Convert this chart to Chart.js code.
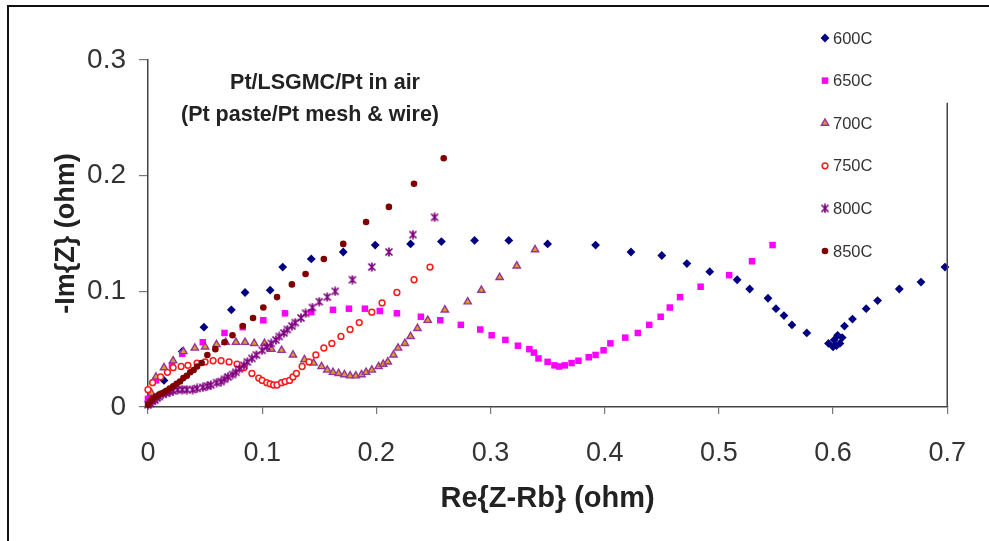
<!DOCTYPE html>
<html>
<head>
<meta charset="utf-8">
<script src="https://cdn.jsdelivr.net/npm/chart.js@4.4.1/dist/chart.umd.min.js"></script>
<style>
  html, body { margin: 0; padding: 0; background: #fff; }
  #wrap { position: relative; width: 989px; height: 541px; overflow: hidden; }
  #frame { position: absolute; left: 7px; top: 5px; width: 1000px; height: 600px;
           border-top: 2px solid #111; border-left: 2px solid #111; }
  #c { position: absolute; left: 0; top: 0; }
</style>
</head>
<body>
<div id="wrap">
  <div id="frame"></div>
  <canvas id="c" width="989" height="541"></canvas>
</div>
<script>
// impedance data, Re{Z-Rb} vs -Im{Z} (ohm)
var labels = ['600C', '650C', '700C', '750C', '800C', '850C'];

var re600 = [0.003,0.014,0.030,0.049,0.073,0.085,0.107,0.118,0.143,0.171,0.199,0.230,0.257,0.286,0.316,0.350,0.392,0.423,0.450,0.472,0.492,0.516,0.527,0.543,0.550,0.557,0.564,0.577,0.596,0.600,0.603,0.606,0.601,0.604,0.608,0.610,0.617,0.629,0.639,0.658,0.677,0.698];
var im600 = [0.005,0.023,0.048,0.069,0.084,0.099,0.101,0.121,0.128,0.134,0.140,0.141,0.143,0.144,0.144,0.141,0.140,0.134,0.131,0.124,0.117,0.110,0.102,0.094,0.085,0.079,0.071,0.064,0.055,0.052,0.053,0.055,0.058,0.062,0.060,0.070,0.076,0.085,0.092,0.102,0.108,0.121];

var re650 = [0.000,0.007,0.021,0.030,0.048,0.067,0.083,0.101,0.120,0.143,0.162,0.176,0.190,0.203,0.218,0.239,0.256,0.274,0.291,0.301,0.313,0.324,0.334,0.338,0.342,0.350,0.356,0.360,0.365,0.371,0.377,0.386,0.392,0.399,0.405,0.418,0.429,0.439,0.449,0.457,0.466,0.484,0.509,0.529,0.547];
var im650 = [0.007,0.023,0.036,0.046,0.056,0.064,0.069,0.075,0.081,0.082,0.084,0.085,0.085,0.083,0.081,0.078,0.075,0.071,0.067,0.062,0.058,0.053,0.050,0.047,0.042,0.039,0.036,0.035,0.036,0.038,0.040,0.043,0.045,0.049,0.055,0.060,0.064,0.071,0.078,0.086,0.095,0.104,0.114,0.126,0.140];

var re700 = [0.003,0.007,0.014,0.022,0.031,0.041,0.050,0.060,0.068,0.077,0.085,0.093,0.102,0.108,0.117,0.127,0.137,0.145,0.152,0.157,0.162,0.167,0.172,0.177,0.182,0.187,0.191,0.196,0.202,0.206,0.210,0.215,0.219,0.225,0.230,0.236,0.245,0.260,0.280,0.292,0.308,0.323,0.339];
var im700 = [0.012,0.026,0.034,0.040,0.048,0.051,0.052,0.054,0.056,0.056,0.056,0.055,0.055,0.050,0.049,0.045,0.041,0.038,0.035,0.032,0.030,0.029,0.028,0.027,0.027,0.028,0.030,0.032,0.035,0.037,0.039,0.045,0.051,0.055,0.061,0.068,0.075,0.084,0.091,0.101,0.112,0.122,0.136];

var re750 = [0.000,0.004,0.011,0.017,0.022,0.029,0.035,0.043,0.050,0.057,0.064,0.071,0.078,0.084,0.091,0.097,0.100,0.104,0.107,0.110,0.113,0.117,0.120,0.124,0.127,0.130,0.135,0.141,0.147,0.154,0.161,0.169,0.177,0.185,0.196,0.205,0.218,0.233,0.247];
var im750 = [0.015,0.021,0.026,0.030,0.034,0.035,0.036,0.038,0.039,0.040,0.040,0.039,0.037,0.034,0.029,0.025,0.023,0.021,0.020,0.019,0.019,0.021,0.022,0.023,0.026,0.029,0.035,0.039,0.045,0.051,0.055,0.061,0.067,0.073,0.082,0.090,0.099,0.110,0.121];

var re800 = [0.000,0.002,0.004,0.006,0.008,0.010,0.013,0.016,0.019,0.022,0.026,0.030,0.034,0.039,0.043,0.048,0.052,0.055,0.060,0.064,0.067,0.070,0.074,0.077,0.080,0.084,0.087,0.091,0.095,0.100,0.104,0.108,0.112,0.115,0.119,0.122,0.126,0.129,0.134,0.138,0.144,0.150,0.157,0.164,0.179,0.196,0.211,0.232,0.251];
var im800 = [0.002,0.003,0.005,0.006,0.008,0.009,0.011,0.012,0.013,0.014,0.015,0.015,0.015,0.015,0.016,0.017,0.018,0.019,0.021,0.022,0.024,0.026,0.028,0.030,0.033,0.036,0.039,0.042,0.045,0.049,0.052,0.055,0.058,0.061,0.064,0.067,0.070,0.073,0.077,0.081,0.086,0.091,0.095,0.100,0.110,0.121,0.134,0.149,0.164];

var re850 = [0.000,0.002,0.004,0.007,0.010,0.013,0.016,0.019,0.022,0.025,0.028,0.031,0.034,0.037,0.040,0.043,0.047,0.052,0.059,0.067,0.074,0.083,0.092,0.101,0.113,0.126,0.138,0.154,0.171,0.191,0.211,0.233,0.259];
var im850 = [0.002,0.005,0.007,0.009,0.011,0.012,0.014,0.016,0.018,0.020,0.022,0.025,0.027,0.030,0.032,0.035,0.038,0.045,0.050,0.056,0.062,0.070,0.077,0.086,0.095,0.106,0.115,0.128,0.141,0.160,0.173,0.193,0.215];

var xTicks = [0, 0.1, 0.2, 0.3, 0.4, 0.5, 0.6, 0.7];
var yTicks = [0, 0.1, 0.2, 0.3];

var FONT = "'Liberation Sans', Arial, Helvetica, sans-serif";

function pairs(xs, ys) {
	var out = [];
	for (var i = 0; i < xs.length; i++) out.push({x: xs[i], y: ys[i]});
	return out;
}

// excel style asterisk marker
function starMarker() {
	var c = document.createElement('canvas');
	c.width = 10; c.height = 10;
	var g = c.getContext('2d');
	g.strokeStyle = '#800080';
	g.lineWidth = 1.7;
	g.beginPath();
	g.moveTo(1.5, 1.5); g.lineTo(8.5, 8.5);
	g.moveTo(8.5, 1.5); g.lineTo(1.5, 8.5);
	g.moveTo(5, 0.5); g.lineTo(5, 9.5);
	g.stroke();
	return c;
}
var star = starMarker();

var sets = [
	{label: labels[0], data: pairs(re600, im600), pointStyle: 'rectRot', pointRadius: 4.4, backgroundColor: '#000080', borderColor: '#000080', pointBorderWidth: 0, order: 5},
	{label: labels[1], data: pairs(re650, im650), pointStyle: 'rect', pointRadius: 4.6, backgroundColor: '#ff00ff', borderColor: '#ff00ff', pointBorderWidth: 0, order: 4},
	{label: labels[2], data: pairs(re700, im700), pointStyle: 'triangle', pointRadius: 4.2, backgroundColor: '#d9a020', borderColor: '#993399', pointBorderWidth: 1.4, order: 3},
	{label: labels[3], data: pairs(re750, im750), pointStyle: 'circle', pointRadius: 2.9, backgroundColor: '#ffffff', borderColor: '#ff1a1a', pointBorderWidth: 1.5, order: 2},
	{label: labels[4], data: pairs(re800, im800), pointStyle: star, pointRadius: 5, backgroundColor: '#800080', borderColor: '#800080', pointBorderWidth: 0, order: 1},
	{label: labels[5], data: pairs(re850, im850), pointStyle: 'circle', pointRadius: 3.3, backgroundColor: '#800000', borderColor: '#800000', pointBorderWidth: 0, order: 0}
];
sets.forEach(function(s) { s.clip = false; });

var extras = {
	id: 'extras',
	afterDraw: function(chart) {
		var ctx = chart.ctx;
		var a = chart.chartArea;
		var ys = chart.scales.y;
		ctx.save();
		// right border of the plot area (upper part hidden by the legend box)
		ctx.strokeStyle = '#444';
		ctx.lineWidth = 1.5;
		ctx.beginPath();
		ctx.moveTo(a.right, ys.getPixelForValue(0.263));
		ctx.lineTo(a.right, a.bottom);
		ctx.stroke();

		// text box title
		ctx.fillStyle = '#222';
		ctx.font = 'bold 21.5px ' + FONT;
		ctx.textAlign = 'center';
		ctx.textBaseline = 'middle';
		ctx.fillText('Pt/LSGMC/Pt in air', 325, 83);
		ctx.fillText('(Pt paste/Pt mesh & wire)', 310, 115);

		// legend
		ctx.font = '16.5px ' + FONT;
		ctx.textAlign = 'left';
		for (var i = 0; i < sets.length; i++) {
			var s = sets[i];
			var y = 38 + i * 42.6;
			ctx.fillStyle = s.backgroundColor;
			ctx.strokeStyle = s.borderColor;
			ctx.lineWidth = s.pointBorderWidth;
			Chart.helpers.drawPoint(ctx, {pointStyle: s.pointStyle, rotation: 0, radius: s.pointRadius, borderWidth: s.pointBorderWidth}, 825, y);
			ctx.fillStyle = '#333';
			ctx.fillText(s.label, 833, y + 1);
		}
		ctx.restore();
	}
};

new Chart(document.getElementById('c'), {
	type: 'scatter',
	data: { datasets: sets },
	options: {
		responsive: false,
		animation: false,
		events: [],
		layout: { padding: { top: 60, right: 36, left: 0, bottom: 0 } },
		plugins: {
			legend: { display: false },
			tooltip: { enabled: false }
		},
		scales: {
			x: {
				type: 'linear',
				min: 0,
				max: 0.7,
				afterBuildTicks: function(s) { s.ticks = xTicks.map(function(v) { return {value: v}; }); },
				afterFit: function(s) { s.height = 134; },
				ticks: {
					callback: function(v) { return String(+v.toFixed(1)); },
					font: { size: 27, family: FONT },
					color: '#333',
					padding: 23,
					maxRotation: 0
				},
				grid: { drawOnChartArea: false, drawTicks: true, tickLength: 7, color: '#777', lineWidth: 1.2 },
				border: { display: true, color: '#444', width: 1.5 },
				title: {
					display: true,
					text: 'Re{Z-Rb} (ohm)',
					color: '#222',
					font: { size: 29, weight: 'bold', family: FONT },
					padding: { top: 0, bottom: 25 }
				}
			},
			y: {
				type: 'linear',
				min: 0,
				max: 0.3,
				afterBuildTicks: function(s) { s.ticks = yTicks.map(function(v) { return {value: v}; }); },
				afterFit: function(s) { s.width = 148; },
				ticks: {
					callback: function(v) { return String(+v.toFixed(1)); },
					font: { size: 28, family: FONT },
					color: '#333',
					padding: 13
				},
				grid: { drawOnChartArea: false, drawTicks: true, tickLength: 9, color: '#777', lineWidth: 1.2 },
				border: { display: true, color: '#444', width: 1.5 },
				title: {
					display: true,
					text: '-Im{Z} (ohm)',
					color: '#222',
					font: { size: 27, weight: 'bold', family: FONT },
					padding: { top: 50, bottom: 0 }
				}
			}
		}
	},
	plugins: [extras]
});
</script>
</body>
</html>
